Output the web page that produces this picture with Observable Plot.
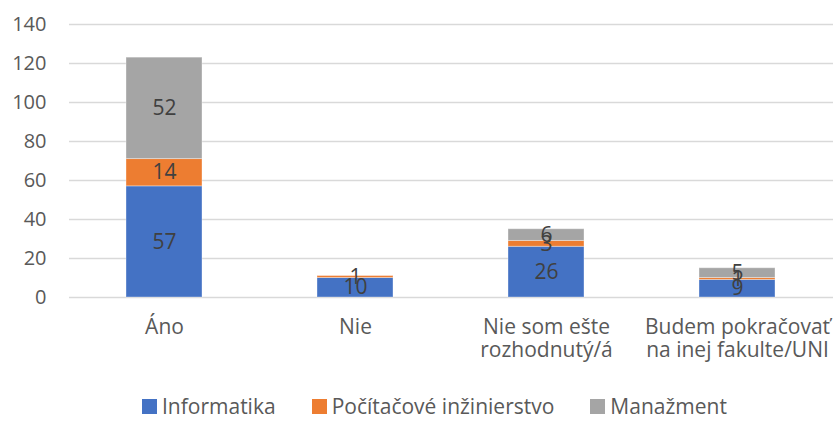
<!DOCTYPE html>
<html>
<head>
<meta charset="utf-8">
<script src="https://cdn.jsdelivr.net/npm/d3@7"></script>
<script src="https://cdn.jsdelivr.net/npm/@observablehq/plot@0.6"></script>
<style>
  html, body { margin: 0; padding: 0; background: #fff; }
  body { width: 833px; height: 421px; overflow: hidden; font-family: "Open Sans", Lato, sans-serif; position: relative; }
  #legend { display: flex; align-items: center; position: absolute; top: 396px; left: 142px; font-size: 21px; line-height: 20px; color: #595959; }
  .item { display: flex; align-items: center; margin-right: 36px; }
  .sw { width: 15px; height: 15px; margin-right: 5px; }
</style>
</head>
<body>
<div id="chart"></div>
<div id="legend"></div>
<script>
const categories = ["Áno", "Nie", "Nie som ešte\nrozhodnutý/á", "Budem pokračovať\nna inej fakulte/UNI"];
const series = ["Informatika", "Počítačové inžinierstvo", "Manažment"];
const informatika = [57, 10, 26, 9];
const pocitacove = [14, 1, 3, 1];
const manazment = [52, 0, 6, 5];
const yTicks = [0, 20, 40, 60, 80, 100, 120, 140];
const colors = ["#4472C4", "#ED7D31", "#A5A5A5"];

const valuesBySeries = [informatika, pocitacove, manazment];
const data = [];
series.forEach((s, si) => categories.forEach((c, ci) => data.push({category: c, series: s, value: valuesBySeries[si][ci]})));

const font = "'Open Sans', Lato, sans-serif";
const chart = Plot.plot({
  width: 833,
  height: 375,
  marginLeft: 69,
  marginRight: 0,
  marginTop: 24,
  marginBottom: 78,
  style: {fontFamily: font, fontSize: "20px", color: "#595959", background: "#fff"},
  x: {domain: categories, paddingInner: 0.6, paddingOuter: 0.3, label: null},
  y: {domain: [0, 140], label: null},
  color: {domain: series, range: colors},
  marks: [
    Plot.gridY(yTicks, {stroke: "#D9D9D9", strokeOpacity: 1, strokeWidth: 1.5}),
    Plot.barY(data, {x: "category", y: "value", fill: "series", stroke: "#fff", strokeOpacity: 0.35, strokeWidth: 1}),
    Plot.text(data.filter(d => d.value > 0), Plot.stackY({x: "category", y: "value", z: "series", text: d => String(d.value), fill: "#404040", fontSize: 21})),
    Plot.axisY({ticks: yTicks, tickSize: 0, tickPadding: 23, label: null, fontSize: 20, fill: "#595959"}),
    Plot.axisX({tickSize: 0, tickPadding: 20, label: null, fontSize: 21, fill: "#595959", lineHeight: 1.1})
  ]
});
document.getElementById("chart").appendChild(chart);

const legend = document.getElementById("legend");
series.forEach((s, i) => {
  const item = document.createElement("div");
  item.className = "item";
  const sw = document.createElement("div");
  sw.className = "sw";
  sw.style.background = colors[i];
  const t = document.createElement("span");
  t.textContent = s;
  item.appendChild(sw);
  item.appendChild(t);
  legend.appendChild(item);
});
</script>
</body>
</html>
